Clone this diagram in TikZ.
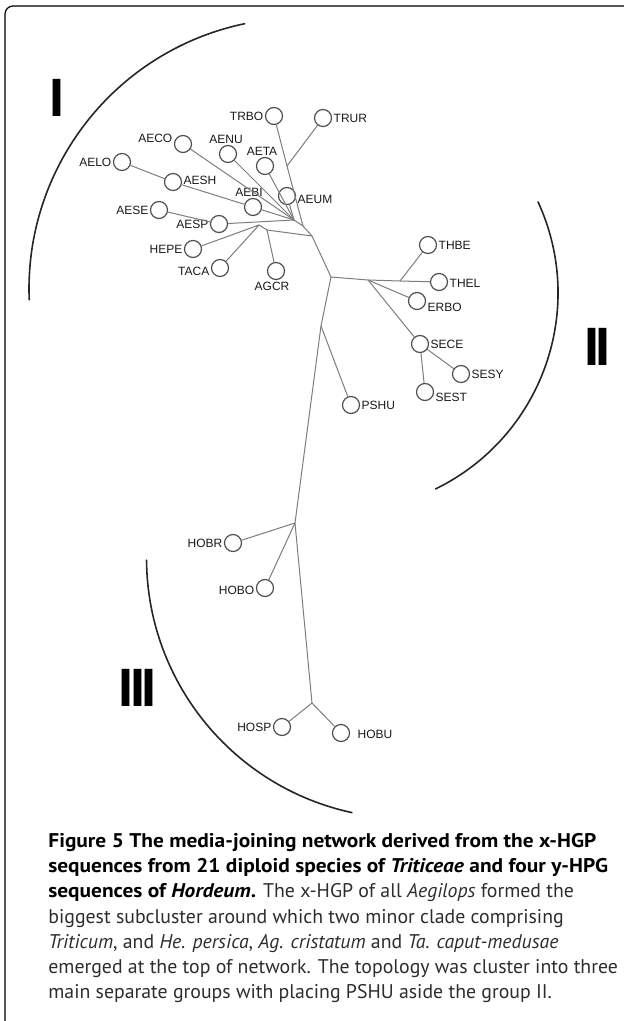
\documentclass[tikz,border=0pt]{standalone}
\usepackage{fontspec}
\setmainfont{PT Sans}[BoldFeatures={FakeStretch=1.08},BoldItalicFeatures={FakeStretch=1.08}]
\newfontfamily\hapfont{Liberation Sans}

\definecolor{linkgray}{RGB}{125,125,125}
\definecolor{ringgray}{RGB}{80,80,80}
\definecolor{captext}{RGB}{45,45,45}

\begin{document}
\begin{tikzpicture}[x=0.5pt,y=-0.5pt,line cap=round,line join=round,
    hap/.style={circle,draw=ringgray,fill=white,line width=0.6pt,minimum size=8.5pt,inner sep=0pt},
    link/.style={draw=linkgray,line width=0.5pt},
    every label/.style={font=\hapfont\fontsize{6}{6}\selectfont,inner sep=0.6pt,text=black!90},
    numeral/.style={font=\hapfont\bfseries\fontsize{27}{27}\selectfont,inner sep=0pt},
    grouparc/.style={line width=0.8pt,black!85}]
        \useasboundingbox (0,0) rectangle (624,1021);

        % Rahmen
        \draw[line width=0.6pt,rounded corners=4pt] (5,1030) -- (5,6) -- (660,6);

        % Gruppenboegen
        \draw[grouparc] (300,289) ++(258.2:271) arc[start angle=258.2,end angle=177.7,radius=271];
        \draw[grouparc] (340,293) ++(-24.7:218) arc[start angle=-24.7,end angle=64,radius=218];
        \draw[grouparc] (407,558) ++(179.5:260.5) arc[start angle=179.5,end angle=102.2,radius=260.5];
        \node[numeral] (gI) at (57,97.5) {I};
        \node[numeral] (gII) at (597,347) {I\kern-2pt I};
        \node[numeral] (gIII) at (137.5,688) {I\kern-2pt I\kern-2pt I};

        % Haplotypen Gruppe I
        \node[hap,label=left:TRBO] (TRBO) at (274,116) {};
        \node[hap,label=right:TRUR] (TRUR) at (323,118) {};
        \node[hap,label={[xshift=-1.5pt]above:AETA}] (AETA) at (265,166) {};
        \node[hap,label={[yshift=-1.5pt]right:AEUM}] (AEUM) at (287,196) {};
        \node[hap,label={[xshift=-2pt]above:AEBI}] (AEBI) at (253,207) {};
        \node[hap,label={[xshift=-1pt]above:AENU}] (AENU) at (228,154) {};
        \node[hap,label={[yshift=3pt]left:AECO}] (AECO) at (183,144) {};
        \node[hap,label=left:AELO] (AELO) at (122,162) {};
        \node[hap,label={[yshift=1pt]right:AESH}] (AESH) at (173,182) {};
        \node[hap,label=left:AESE] (AESE) at (159,210) {};
        \node[hap,label=left:AESP] (AESP) at (219,224) {};
        \node[hap,label=left:HEPE] (HEPE) at (193,249) {};
        \node[hap,label={[yshift=-1.8pt]left:TACA}] (TACA) at (220,268) {};
        \node[hap,label={[xshift=-2pt]below:AGCR}] (AGCR) at (276,271) {};

        % Haplotypen Gruppe II
        \node[hap,label=right:THBE] (THBE) at (428,245) {};
        \node[hap,label={[yshift=-0.6pt]right:THEL}] (THEL) at (439,282) {};
        \node[hap,label={[yshift=-3pt]right:ERBO}] (ERBO) at (417,301) {};
        \node[hap,label=right:SECE] (SECE) at (420,344) {};
        \node[hap,label=right:SESY] (SESY) at (461,374) {};
        \node[hap,label={[yshift=-2.5pt]right:SEST}] (SEST) at (425,392) {};
        \node[hap,label=right:PSHU] (PSHU) at (351,405) {};

        % Haplotypen Gruppe III
        \node[hap,label=left:HOBR] (HOBR) at (233,543) {};
        \node[hap,label={[yshift=-1pt]left:HOBO}] (HOBO) at (265,588) {};
        \node[hap,label=left:HOSP] (HOSP) at (282,727) {};
        \node[hap,label={[xshift=3pt,yshift=-0.8pt]right:HOBU}] (HOBU) at (341,733) {};

        % Medianvektoren
        \coordinate (hub) at (331,277);
        \coordinate (tr1) at (287,166);
        \coordinate (tr2) at (303,226);
        \coordinate (tr3) at (312,236);
        \coordinate (aeg) at (294,220);
        \coordinate (hep) at (259,225);
        \coordinate (agc) at (267,230);
        \coordinate (rt1) at (368,280);
        \coordinate (rt2) at (400,281);
        \coordinate (ps) at (321,326);
        \coordinate (ho1) at (295,523);
        \coordinate (ho2) at (312,703);

        % Verbindungen
        \draw[link] (TRBO) -- (tr1) -- (tr2) -- (tr3) -- (hub);
        \draw[link] (tr1) -- (TRUR);
        \draw[link] (aeg) -- (tr2);
        \foreach \h in {AEUM,AETA,AENU,AECO,AEBI,AESP}
            \draw[link] (\h) -- (aeg);
        \draw[link] (AELO) -- (AESH) -- (AEBI);
        \draw[link] (AESE) -- (AESP);
        \draw[link] (HEPE) -- (hep) -- (TACA);
        \draw[link] (hep) -- (agc) -- (tr3);
        \draw[link] (agc) -- (AGCR);
        \draw[link] (hub) -- (rt1) -- (rt2) -- (THEL);
        \draw[link] (rt2) -- (THBE);
        \draw[link] (rt1) -- (ERBO);
        \draw[link] (rt1) -- (SECE) -- (SESY);
        \draw[link] (SECE) -- (SEST);
        \draw[link] (hub) -- (ps) -- (ho1) -- (ho2);
        \draw[link] (ps) -- (PSHU);
        \draw[link] (HOBR) -- (ho1) -- (HOBO);
        \draw[link] (HOSP) -- (ho2) -- (HOBU);

        % Legende
        \node[anchor=north west,align=left,inner sep=0pt,text=captext,
              font=\fontsize{9.9}{12.6}\selectfont] (caption) at (48,833)
            {\textbf{\color{black}Figure 5 The media-joining network derived from the x-HGP}\\
             \textbf{\color{black}sequences from 21 diploid species of \textit{Triticeae} and four y-HPG}\\
             \textbf{\color{black}sequences of \textit{Hordeum}.} The x-HGP of all \textit{Aegilops} formed the\\
             biggest subcluster around which two minor clade comprising\\
             \textit{Triticum}, and \textit{He. persica}, \textit{Ag. cristatum} and \textit{Ta. caput-medusae}\\
             emerged at the top of network. The topology was cluster into three\\
             main separate groups with placing PSHU aside the group II.};

    \end{tikzpicture}
\end{document}
